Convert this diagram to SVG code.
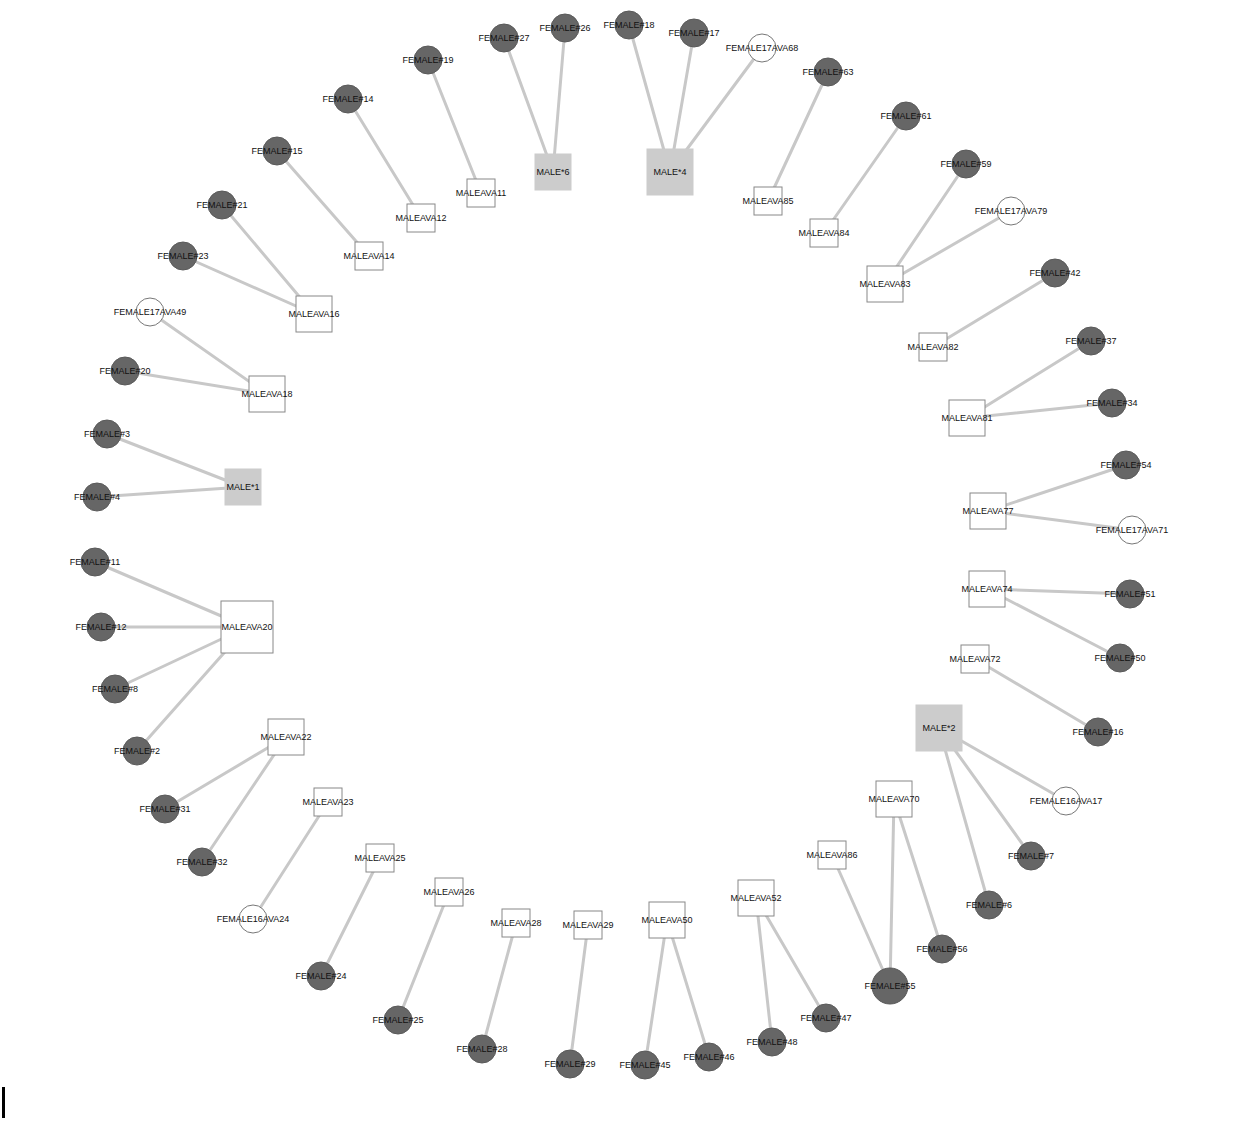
<svg xmlns="http://www.w3.org/2000/svg" width="1254" height="1138" viewBox="0 0 1254 1138">
<style>
.e{stroke:#c8c8c8;stroke-width:3;fill:none}
.f{fill:#666666;stroke:#5a5a5a;stroke-width:1}
.o{fill:#ffffff;stroke:#777777;stroke-width:1}
.m{fill:#ffffff;stroke:#888888;stroke-width:1}
.g{fill:#cccccc;stroke:#cccccc;stroke-width:1}
text{font-family:"Liberation Sans",Arial,sans-serif;font-size:9px;fill:#111;text-anchor:middle;dominant-baseline:central}
</style>
<rect width="1254" height="1138" fill="#fff"/>
<rect x="2" y="1087" width="3" height="31" fill="#000"/>
<g id="connectors">
<path class="e" d="M553,172L504,38M553,172L565,28M670,172L629,25M670,172L694,33M670,172L762,48M768,201L828,72M824,233L906,116M885,284L966,164M885,284L1011,211M933,347L1055,273M967,418L1091,341M967,418L1112,403M988,511L1126,465M988,511L1132,530M987,589L1130,594M987,589L1120,658M975,659L1098,732M939,728L1066,801M939,728L1031,856M939,728L989,905M894,799L942,949M894,799L890,986M832,855L890,986M756,898L826,1018M756,898L772,1042M667,920L709,1057M667,920L645,1065M588,925L570,1064M516,923L482,1049M449,892L398,1020M380,858L321,976M328,802L253,919M286,737L202,862M286,737L165,809M247,627L137,751M247,627L115,689M247,627L101,627M247,627L95,562M243,487L97,497M243,487L107,434M267,394L125,371M267,394L150,312M314,314L183,256M314,314L222,205M369,256L277,151M421,218L348,99M481,193L428,60"/>
</g>
<g id="MALE6"><rect class="g" x="535" y="154" width="36" height="36"/><text x="553" y="172">MALE*6</text></g>
<g id="MALE4"><rect class="g" x="647" y="149" width="46" height="46"/><text x="670" y="172">MALE*4</text></g>
<g id="MALE1"><rect class="g" x="225" y="469" width="36" height="36"/><text x="243" y="487">MALE*1</text></g>
<g id="MALE2"><rect class="g" x="916" y="705" width="46" height="46"/><text x="939" y="728">MALE*2</text></g>
<g id="MALEAVA11"><rect class="m" x="467" y="179" width="28" height="28"/><text x="481" y="193">MALEAVA11</text></g>
<g id="MALEAVA85"><rect class="m" x="754" y="187" width="28" height="28"/><text x="768" y="201">MALEAVA85</text></g>
<g id="MALEAVA12"><rect class="m" x="407" y="204" width="28" height="28"/><text x="421" y="218">MALEAVA12</text></g>
<g id="MALEAVA84"><rect class="m" x="810" y="219" width="28" height="28"/><text x="824" y="233">MALEAVA84</text></g>
<g id="MALEAVA14"><rect class="m" x="355" y="242" width="28" height="28"/><text x="369" y="256">MALEAVA14</text></g>
<g id="MALEAVA83"><rect class="m" x="867" y="266" width="36" height="36"/><text x="885" y="284">MALEAVA83</text></g>
<g id="MALEAVA16"><rect class="m" x="296" y="296" width="36" height="36"/><text x="314" y="314">MALEAVA16</text></g>
<g id="MALEAVA82"><rect class="m" x="919" y="333" width="28" height="28"/><text x="933" y="347">MALEAVA82</text></g>
<g id="MALEAVA18"><rect class="m" x="249" y="376" width="36" height="36"/><text x="267" y="394">MALEAVA18</text></g>
<g id="MALEAVA81"><rect class="m" x="949" y="400" width="36" height="36"/><text x="967" y="418">MALEAVA81</text></g>
<g id="MALEAVA77"><rect class="m" x="970" y="493" width="36" height="36"/><text x="988" y="511">MALEAVA77</text></g>
<g id="MALEAVA74"><rect class="m" x="969" y="571" width="36" height="36"/><text x="987" y="589">MALEAVA74</text></g>
<g id="MALEAVA20"><rect class="m" x="221" y="601" width="52" height="52"/><text x="247" y="627">MALEAVA20</text></g>
<g id="MALEAVA72"><rect class="m" x="961" y="645" width="28" height="28"/><text x="975" y="659">MALEAVA72</text></g>
<g id="MALEAVA22"><rect class="m" x="268" y="719" width="36" height="36"/><text x="286" y="737">MALEAVA22</text></g>
<g id="MALEAVA70"><rect class="m" x="876" y="781" width="36" height="36"/><text x="894" y="799">MALEAVA70</text></g>
<g id="MALEAVA23"><rect class="m" x="314" y="788" width="28" height="28"/><text x="328" y="802">MALEAVA23</text></g>
<g id="MALEAVA86"><rect class="m" x="818" y="841" width="28" height="28"/><text x="832" y="855">MALEAVA86</text></g>
<g id="MALEAVA25"><rect class="m" x="366" y="844" width="28" height="28"/><text x="380" y="858">MALEAVA25</text></g>
<g id="MALEAVA52"><rect class="m" x="738" y="880" width="36" height="36"/><text x="756" y="898">MALEAVA52</text></g>
<g id="MALEAVA26"><rect class="m" x="435" y="878" width="28" height="28"/><text x="449" y="892">MALEAVA26</text></g>
<g id="MALEAVA28"><rect class="m" x="502" y="909" width="28" height="28"/><text x="516" y="923">MALEAVA28</text></g>
<g id="MALEAVA29"><rect class="m" x="574" y="911" width="28" height="28"/><text x="588" y="925">MALEAVA29</text></g>
<g id="MALEAVA50"><rect class="m" x="649" y="902" width="36" height="36"/><text x="667" y="920">MALEAVA50</text></g>
<g id="F27"><circle class="f" cx="504" cy="38" r="14"/><text x="504" y="38">FEMALE#27</text></g>
<g id="F26"><circle class="f" cx="565" cy="28" r="14"/><text x="565" y="28">FEMALE#26</text></g>
<g id="F18"><circle class="f" cx="629" cy="25" r="14"/><text x="629" y="25">FEMALE#18</text></g>
<g id="F17"><circle class="f" cx="694" cy="33" r="14"/><text x="694" y="33">FEMALE#17</text></g>
<g id="F17AVA68"><circle class="o" cx="762" cy="48" r="14"/><text x="762" y="48">FEMALE17AVA68</text></g>
<g id="F63"><circle class="f" cx="828" cy="72" r="14"/><text x="828" y="72">FEMALE#63</text></g>
<g id="F61"><circle class="f" cx="906" cy="116" r="14"/><text x="906" y="116">FEMALE#61</text></g>
<g id="F59"><circle class="f" cx="966" cy="164" r="14"/><text x="966" y="164">FEMALE#59</text></g>
<g id="F17AVA79"><circle class="o" cx="1011" cy="211" r="14"/><text x="1011" y="211">FEMALE17AVA79</text></g>
<g id="F42"><circle class="f" cx="1055" cy="273" r="14"/><text x="1055" y="273">FEMALE#42</text></g>
<g id="F37"><circle class="f" cx="1091" cy="341" r="14"/><text x="1091" y="341">FEMALE#37</text></g>
<g id="F34"><circle class="f" cx="1112" cy="403" r="14"/><text x="1112" y="403">FEMALE#34</text></g>
<g id="F54"><circle class="f" cx="1126" cy="465" r="14"/><text x="1126" y="465">FEMALE#54</text></g>
<g id="F17AVA71"><circle class="o" cx="1132" cy="530" r="14"/><text x="1132" y="530">FEMALE17AVA71</text></g>
<g id="F51"><circle class="f" cx="1130" cy="594" r="14"/><text x="1130" y="594">FEMALE#51</text></g>
<g id="F50"><circle class="f" cx="1120" cy="658" r="14"/><text x="1120" y="658">FEMALE#50</text></g>
<g id="F16"><circle class="f" cx="1098" cy="732" r="14"/><text x="1098" y="732">FEMALE#16</text></g>
<g id="F16AVA17"><circle class="o" cx="1066" cy="801" r="14"/><text x="1066" y="801">FEMALE16AVA17</text></g>
<g id="F7"><circle class="f" cx="1031" cy="856" r="14"/><text x="1031" y="856">FEMALE#7</text></g>
<g id="F6"><circle class="f" cx="989" cy="905" r="14"/><text x="989" y="905">FEMALE#6</text></g>
<g id="F56"><circle class="f" cx="942" cy="949" r="14"/><text x="942" y="949">FEMALE#56</text></g>
<g id="F55"><circle class="f" cx="890" cy="986" r="18"/><text x="890" y="986">FEMALE#55</text></g>
<g id="F47"><circle class="f" cx="826" cy="1018" r="14"/><text x="826" y="1018">FEMALE#47</text></g>
<g id="F48"><circle class="f" cx="772" cy="1042" r="14"/><text x="772" y="1042">FEMALE#48</text></g>
<g id="F46"><circle class="f" cx="709" cy="1057" r="14"/><text x="709" y="1057">FEMALE#46</text></g>
<g id="F45"><circle class="f" cx="645" cy="1065" r="14"/><text x="645" y="1065">FEMALE#45</text></g>
<g id="F29"><circle class="f" cx="570" cy="1064" r="14"/><text x="570" y="1064">FEMALE#29</text></g>
<g id="F28"><circle class="f" cx="482" cy="1049" r="14"/><text x="482" y="1049">FEMALE#28</text></g>
<g id="F25"><circle class="f" cx="398" cy="1020" r="14"/><text x="398" y="1020">FEMALE#25</text></g>
<g id="F24"><circle class="f" cx="321" cy="976" r="14"/><text x="321" y="976">FEMALE#24</text></g>
<g id="F16AVA24"><circle class="o" cx="253" cy="919" r="14"/><text x="253" y="919">FEMALE16AVA24</text></g>
<g id="F32"><circle class="f" cx="202" cy="862" r="14"/><text x="202" y="862">FEMALE#32</text></g>
<g id="F31"><circle class="f" cx="165" cy="809" r="14"/><text x="165" y="809">FEMALE#31</text></g>
<g id="F2"><circle class="f" cx="137" cy="751" r="14"/><text x="137" y="751">FEMALE#2</text></g>
<g id="F8"><circle class="f" cx="115" cy="689" r="14"/><text x="115" y="689">FEMALE#8</text></g>
<g id="F12"><circle class="f" cx="101" cy="627" r="14"/><text x="101" y="627">FEMALE#12</text></g>
<g id="F11"><circle class="f" cx="95" cy="562" r="14"/><text x="95" y="562">FEMALE#11</text></g>
<g id="F4"><circle class="f" cx="97" cy="497" r="14"/><text x="97" y="497">FEMALE#4</text></g>
<g id="F3"><circle class="f" cx="107" cy="434" r="14"/><text x="107" y="434">FEMALE#3</text></g>
<g id="F20"><circle class="f" cx="125" cy="371" r="14"/><text x="125" y="371">FEMALE#20</text></g>
<g id="F17AVA49"><circle class="o" cx="150" cy="312" r="14"/><text x="150" y="312">FEMALE17AVA49</text></g>
<g id="F23"><circle class="f" cx="183" cy="256" r="14"/><text x="183" y="256">FEMALE#23</text></g>
<g id="F21"><circle class="f" cx="222" cy="205" r="14"/><text x="222" y="205">FEMALE#21</text></g>
<g id="F15"><circle class="f" cx="277" cy="151" r="14"/><text x="277" y="151">FEMALE#15</text></g>
<g id="F14"><circle class="f" cx="348" cy="99" r="14"/><text x="348" y="99">FEMALE#14</text></g>
<g id="F19"><circle class="f" cx="428" cy="60" r="14"/><text x="428" y="60">FEMALE#19</text></g>
</svg>
